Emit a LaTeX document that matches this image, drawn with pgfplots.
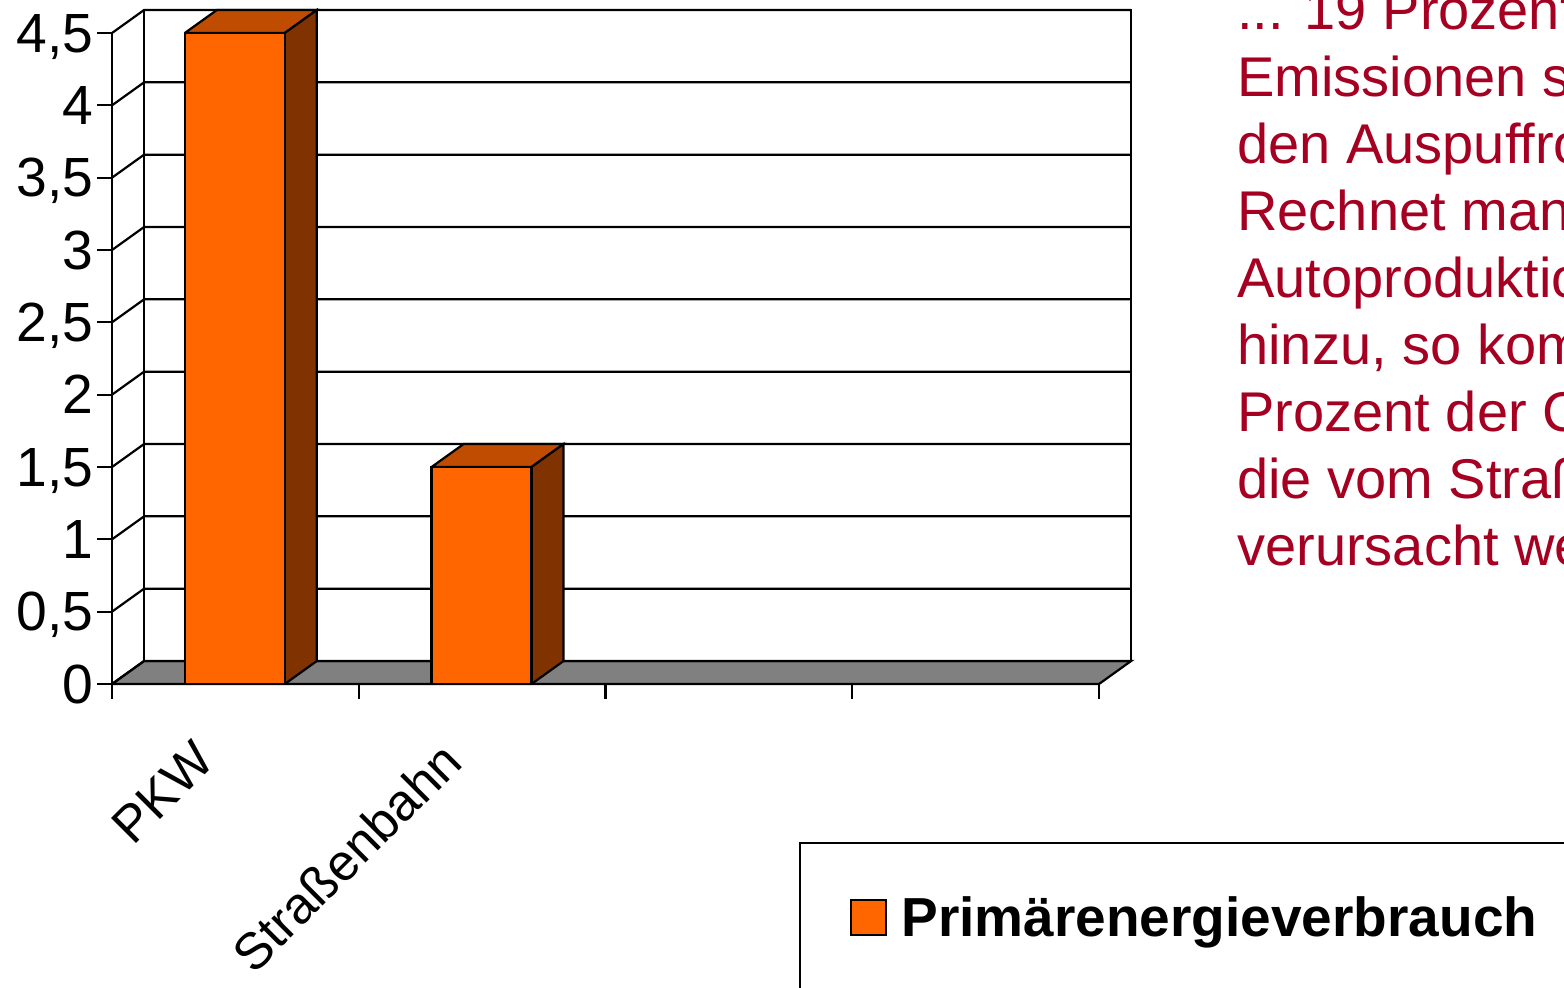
\documentclass[border=0pt]{standalone}
\usepackage{fontspec}
\setmainfont{Liberation Sans}
\usepackage{pgfplots}
\pgfplotsset{compat=1.18}
\definecolor{barfront}{RGB}{255,102,0}
\definecolor{bartop}{RGB}{191,76,0}
\definecolor{barside}{RGB}{128,51,0}
\definecolor{floorgray}{RGB}{128,128,128}
\definecolor{txtred}{RGB}{165,0,33}
\begin{document}
\begin{tikzpicture}
\path[use as bounding box] (0,0) rectangle (782pt,-493.5pt);
\clip (0,0) rectangle (782pt,-493.5pt);
\begin{axis}[
  at={(56pt,-342pt)}, anchor=south west,
  scale only axis, width=493.5pt, height=325.5pt,
  xmin=0, xmax=4, ymin=0, ymax=4.5,
  clip=false,
  axis x line*=bottom, axis y line*=left,
  axis line style={line width=1.1pt, black},
  every tick/.style={black, line width=1.1pt},
  tick align=outside, major tick length=7.5pt,
  xtick={0,1,2,3,4}, xticklabels={},
  ytick={0,0.5,1,1.5,2,2.5,3,3.5,4,4.5},
  /pgf/number format/use comma,
  /pgf/number format/assume math mode=true,
  yticklabel style={font=\fontsize{27.6}{27.6}\selectfont, text depth=0pt, inner sep=1.5pt},
  extra x ticks={0.5,1.5},
  extra x tick labels={PKW,Straßenbahn},
  extra x tick style={major tick length=0pt, tick style={draw=none},
    xticklabel style={font=\fontsize{25.7}{25.7}\selectfont, inner sep=0pt,
      xshift=-22pt, yshift=-27pt, rotate=45, anchor=north east}},
  legend style={at={(0.7477,-0.3594)}, anchor=west, draw=none, fill=none,
    font=\bfseries\fontsize{27.5}{27.5}\selectfont, inner sep=0pt},
  legend image code/.code={\draw[#1, line width=1pt] (0pt,-8.75pt) rectangle (17.5pt,8.75pt); \path (22.5pt,0pt);},
]
% floor
\addplot[draw=black, line width=1.1pt, fill=floorgray, forget plot] coordinates {(0,0) (4,0) (4.13,0.159) (0.13,0.159) (0,0)};
% back wall
\addplot[draw=black, line width=1.1pt, fill=white, forget plot] coordinates {(0.13,0.159) (4.13,0.159) (4.13,4.659) (0.13,4.659) (0.13,0.159)};
% side wall diagonals and grid lines
\addplot[black, line width=1.1pt, forget plot] coordinates {(0,0) (0.13,0.159) (4.13,0.159)};
\addplot[black, line width=1.1pt, forget plot] coordinates {(0,0.5) (0.13,0.659) (4.13,0.659)};
\addplot[black, line width=1.1pt, forget plot] coordinates {(0,1) (0.13,1.159) (4.13,1.159)};
\addplot[black, line width=1.1pt, forget plot] coordinates {(0,1.5) (0.13,1.659) (4.13,1.659)};
\addplot[black, line width=1.1pt, forget plot] coordinates {(0,2) (0.13,2.159) (4.13,2.159)};
\addplot[black, line width=1.1pt, forget plot] coordinates {(0,2.5) (0.13,2.659) (4.13,2.659)};
\addplot[black, line width=1.1pt, forget plot] coordinates {(0,3) (0.13,3.159) (4.13,3.159)};
\addplot[black, line width=1.1pt, forget plot] coordinates {(0,3.5) (0.13,3.659) (4.13,3.659)};
\addplot[black, line width=1.1pt, forget plot] coordinates {(0,4) (0.13,4.159) (4.13,4.159)};
\addplot[black, line width=1.1pt, forget plot] coordinates {(0,4.5) (0.13,4.659) (4.13,4.659)};
% bar PKW = 4.5
\addplot[draw=black, line width=1.1pt, fill=bartop, forget plot] coordinates {(0.295,4.5) (0.70,4.5) (0.83,4.659) (0.425,4.659) (0.295,4.5)};
\addplot[draw=black, line width=1.1pt, fill=barside, forget plot] coordinates {(0.70,0) (0.83,0.159) (0.83,4.659) (0.70,4.5) (0.70,0)};
\addplot[draw=black, line width=1.1pt, fill=barfront] coordinates {(0.295,0) (0.70,0) (0.70,4.5) (0.295,4.5) (0.295,0)};
\addlegendentry{Primärenergieverbrauch}
% bar Strassenbahn = 1.5
\addplot[draw=black, line width=1.1pt, fill=bartop, forget plot] coordinates {(1.295,1.5) (1.70,1.5) (1.83,1.659) (1.425,1.659) (1.295,1.5)};
\addplot[draw=black, line width=1.1pt, fill=barside, forget plot] coordinates {(1.70,0) (1.83,0.159) (1.83,1.659) (1.70,1.5) (1.70,0)};
\addplot[draw=black, line width=1.1pt, fill=barfront, forget plot] coordinates {(1.295,0) (1.70,0) (1.70,1.5) (1.295,1.5) (1.295,0)};
\end{axis}
\draw[line width=1pt] (400pt,-421.5pt) rectangle (800pt,-520pt);
\begin{scope}[every node/.style={anchor=base west, inner sep=0pt, text=txtred, font=\fontsize{28}{33.5}\selectfont}]
\node at (618.5pt,-14.5pt) {... 19 Prozent der};
\node at (618.5pt,-48pt) {Emissionen stammen};
\node at (618.5pt,-81.5pt) {den Auspuffrohren.};
\node at (618.5pt,-115pt) {Rechnet man die};
\node at (618.5pt,-148.5pt) {Autoproduktion};
\node at (618.5pt,-182pt) {hinzu, so kommen};
\node at (618.5pt,-215.5pt) {Prozent der CO};
\node at (618.5pt,-249pt) {die vom Straßenverkehr};
\node at (618.5pt,-282.5pt) {verursacht werden.};
\end{scope}
\end{tikzpicture}
\end{document}
